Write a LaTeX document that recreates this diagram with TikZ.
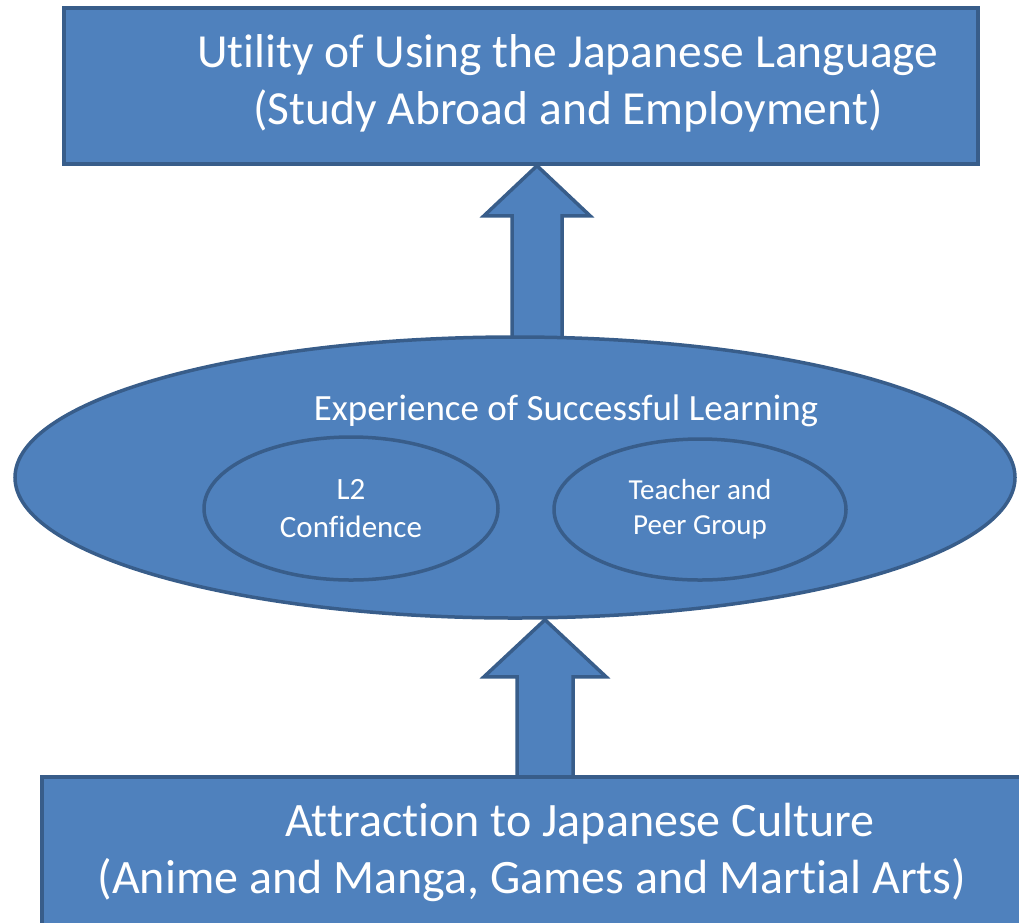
\documentclass[tikz,border=0pt]{standalone}
\usepackage{fontspec}
\setmainfont{Carlito}[Ligatures=NoCommon]
\usetikzlibrary{shapes.geometric,calc,backgrounds}
\definecolor{boxblue}{HTML}{4F81BD}
\definecolor{edgeblue}{HTML}{385D8A}
\begin{document}
\begin{tikzpicture}[x=1pt, y=-1pt]
            \tikzset{shapebox/.style = {draw=edgeblue, fill=boxblue, line width=3.5pt},
                     panel/.style = {shapebox, rectangle, inner sep=0pt},
                     oval/.style = {shapebox, ellipse, inner sep=0pt, text=white, align=center},
                     words/.style = {text=white, inner sep=0pt, align=center}}
            \useasboundingbox (0,0) rectangle (1019,922);
            \clip (0,0) rectangle (1019,922);

            \node[panel, minimum width=914pt, minimum height=156pt] (utility) at (521,86) {};
            \node[panel, minimum width=1000pt, minimum height=200pt] (culture) at (542,877) {};
            \node[oval, minimum width=1000pt, minimum height=281pt] (success) at (515,477.5) {};

            \node[oval, minimum width=294pt, minimum height=143pt, font=\fontsize{31}{38}\selectfont] (conf) at (351,508.5) {L2\\Confidence};
            \node[oval, minimum width=292pt, minimum height=141pt, font=\fontsize{29}{35}\selectfont] (peer) at (700,509.5) {Teacher and\\Peer Group};

            \node[words, font=\fontsize{47.5}{57}\selectfont] (utilitytext) at (568,83) {Utility of Using the Japanese Language\\(Study Abroad and Employment)};
            \node[words, font=\fontsize{37}{44}\selectfont, anchor=base] (successtext) at (566,420) {Experience of Successful Learning};
            \node[words, font=\fontsize{48}{57}\selectfont] (culturetext) at (532,852) {\hspace*{96pt}Attraction to Japanese Culture\\(Anime and Manga, Games and Martial Arts)};

            \begin{scope}[on background layer]
                \coordinate (uptail) at ($(success.north)+(22,12)$);
                \coordinate (uptip) at (utility.south -| uptail);
                \draw[shapebox] ($(uptail)+(-25,0)$) -- ($(uptip)+(-25,50)$) -- ($(uptip)+(-53,50)$) -- (uptip)
                    -- ($(uptip)+(53,50)$) -- ($(uptip)+(25,50)$) -- ($(uptail)+(25,0)$) -- cycle;

                \coordinate (lowtail) at ($(culture.north)+(3,12)$);
                \coordinate (lowtip) at (success.south -| lowtail);
                \draw[shapebox] ($(lowtail)+(-28,0)$) -- ($(lowtip)+(-28,57)$) -- ($(lowtip)+(-61,57)$) -- (lowtip)
                    -- ($(lowtip)+(61,57)$) -- ($(lowtip)+(28,57)$) -- ($(lowtail)+(28,0)$) -- cycle;
            \end{scope}
        \end{tikzpicture}
\end{document}
